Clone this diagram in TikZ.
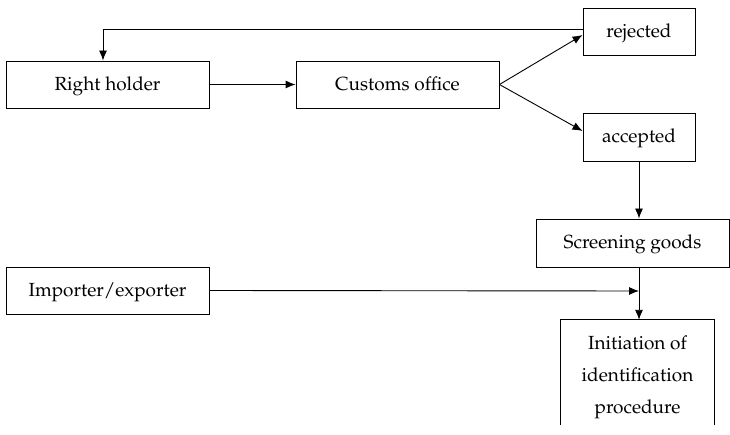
\documentclass[tikz,border=0pt]{standalone}
\usepackage[T1]{fontenc}
\usepackage{mathpazo}
\usetikzlibrary{arrows.meta}
\begin{document}
\begin{tikzpicture}[x=1pt,y=-1pt,
  txt/.style={inner sep=0pt, align=center, font=\fontsize{19}{32}\selectfont},
  box/.style={txt, draw, line width=0.9pt, text height=15pt, text depth=3pt},
  conn/.style={line width=0.9pt, -{Latex[length=10pt,width=8pt]}}]
\useasboundingbox (0,0) rectangle (730,435);
\node[box, minimum width=203, minimum height=47] (rh) at (107.5,84.5) {Right holder};
\node[box, minimum width=203, minimum height=47] (co) at (397.5,84.5) {Customs office};
\node[box, minimum width=112, minimum height=47] (rej) at (639,31.5) {rejected};
\node[box, minimum width=112, minimum height=48] (acc) at (639,137) {accepted};
\node[box, minimum width=193, minimum height=48] (scr) at (632.5,243) {Screening goods};
\node[box, minimum width=203, minimum height=47] (imp) at (107.5,290.5) {Importer/exporter};
\node[inner sep=0pt, minimum width=153, minimum height=105] (ini) at (637.5,372.5) {};
\node[txt] (initxt) at (637.5,377) {Initiation of\\identification\\procedure};
\draw[line width=0.9pt] (ini.south west) -- (ini.north west) -- (ini.north east) -- (ini.south east);
\coordinate (c1) at (103,29);
\coordinate (m) at (639,291);
\draw[conn] (rej.west |- 0,29) -- (c1) -- (rh.north -| c1);
\draw[conn] (rh) -- (co);
\draw[conn] (co.east) -- (rej.west |- 0,35);
\draw[conn] (co.east) -- (acc.west |- 0,131);
\draw[conn] (acc.south -| 639,0) -- (scr.north -| 639,0);
\draw[conn] (scr.south -| 639,0) -- (ini.north -| 639,0);
\draw[conn] (imp.east) -- (m);
\end{tikzpicture}
\end{document}
